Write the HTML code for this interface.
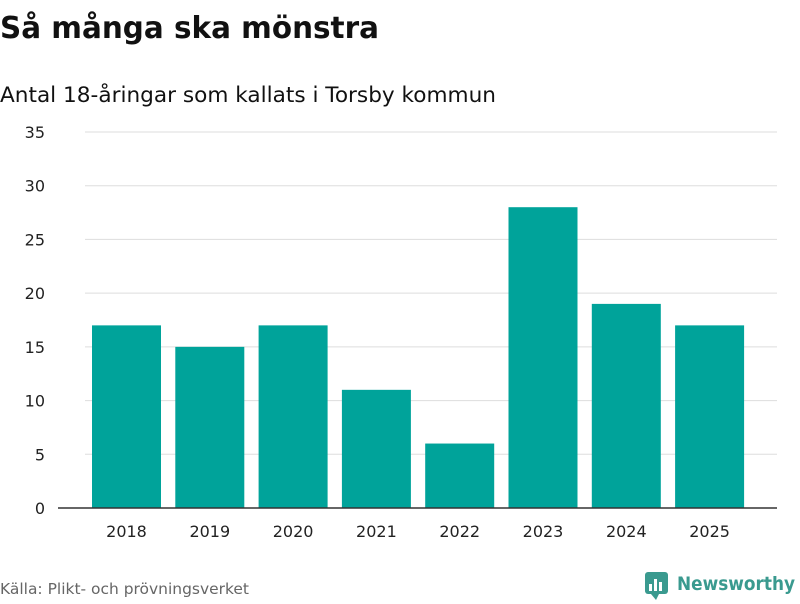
<!DOCTYPE html>
<html><head><meta charset="utf-8"><style>
body{margin:0;background:#fff;width:800px;height:600px;overflow:hidden;font-family:"DejaVu Sans","Liberation Sans",sans-serif;}
</style></head><body>
<svg width="800" height="600" xmlns="http://www.w3.org/2000/svg">
<text x="0" y="38" font-size="30" font-weight="bold" fill="#111" textLength="379" lengthAdjust="spacingAndGlyphs">Så många ska mönstra</text>
<text x="0" y="102" font-size="21" fill="#111" textLength="496" lengthAdjust="spacingAndGlyphs">Antal 18-åringar som kallats i Torsby kommun</text>
<g id="grid"></g>
<g id="yticks"></g>
<g id="bars"></g>
<g id="xticks"></g>
<line x1="58" x2="777" y1="508" y2="508" stroke="#333" stroke-width="1.5"/>
<text x="0" y="594" font-size="15" fill="#666" textLength="249" lengthAdjust="spacingAndGlyphs">Källa: Plikt- och prövningsverket</text>
<g>
<rect x="645" y="572" width="23" height="22" rx="3" fill="#3a9a8f"/>
<path d="M651 594 L656 600 L659 594 Z" fill="#3a9a8f"/>
<rect x="649" y="584" width="3" height="7" fill="#fff"/><rect x="654" y="579" width="3" height="12" fill="#fff"/><rect x="659" y="582" width="3" height="9" fill="#fff"/>
<text x="677" y="590" font-size="19" font-weight="bold" fill="#3a9a8f" textLength="118" lengthAdjust="spacingAndGlyphs">Newsworthy</text>
</g>
</svg>
<script>
const categories=["2018","2019","2020","2021","2022","2023","2024","2025"];
const values=[17,15,17,11,6,28,19,17];
const yTicks=[0,5,10,15,20,25,30,35];
const ns="http://www.w3.org/2000/svg";
const y=v=>508-v*(376/35);
const xc=i=>126.5+i*83.3;
function mk(t,a,txt){const e=document.createElementNS(ns,t);for(const k in a)e.setAttribute(k,a[k]);if(txt!=null)e.textContent=txt;return e;}
const grid=document.getElementById('grid'),yt=document.getElementById('yticks'),bars=document.getElementById('bars'),xt=document.getElementById('xticks');
yTicks.forEach(v=>{
 if(v>0){const l=mk('line',{x1:85,x2:777,y1:y(v),y2:y(v),stroke:'#ddd','stroke-width':1});
 
 
 grid.appendChild(l);}
 const t=mk('text',{x:45,y:y(v)+6,'font-size':16,fill:'#222','text-anchor':'end'},v);
 
 
 yt.appendChild(t);
});
categories.forEach((c,i)=>{
 const r=mk('rect',{x:xc(i)-34.5,y:y(values[i]),width:69,height:508-y(values[i]),fill:'#00a39a'});
 
 
 bars.appendChild(r);
 const t=mk('text',{x:xc(i),y:537,'font-size':16,fill:'#222','text-anchor':'middle'},c);
 
 
 xt.appendChild(t);
});
</script>
</body></html>
